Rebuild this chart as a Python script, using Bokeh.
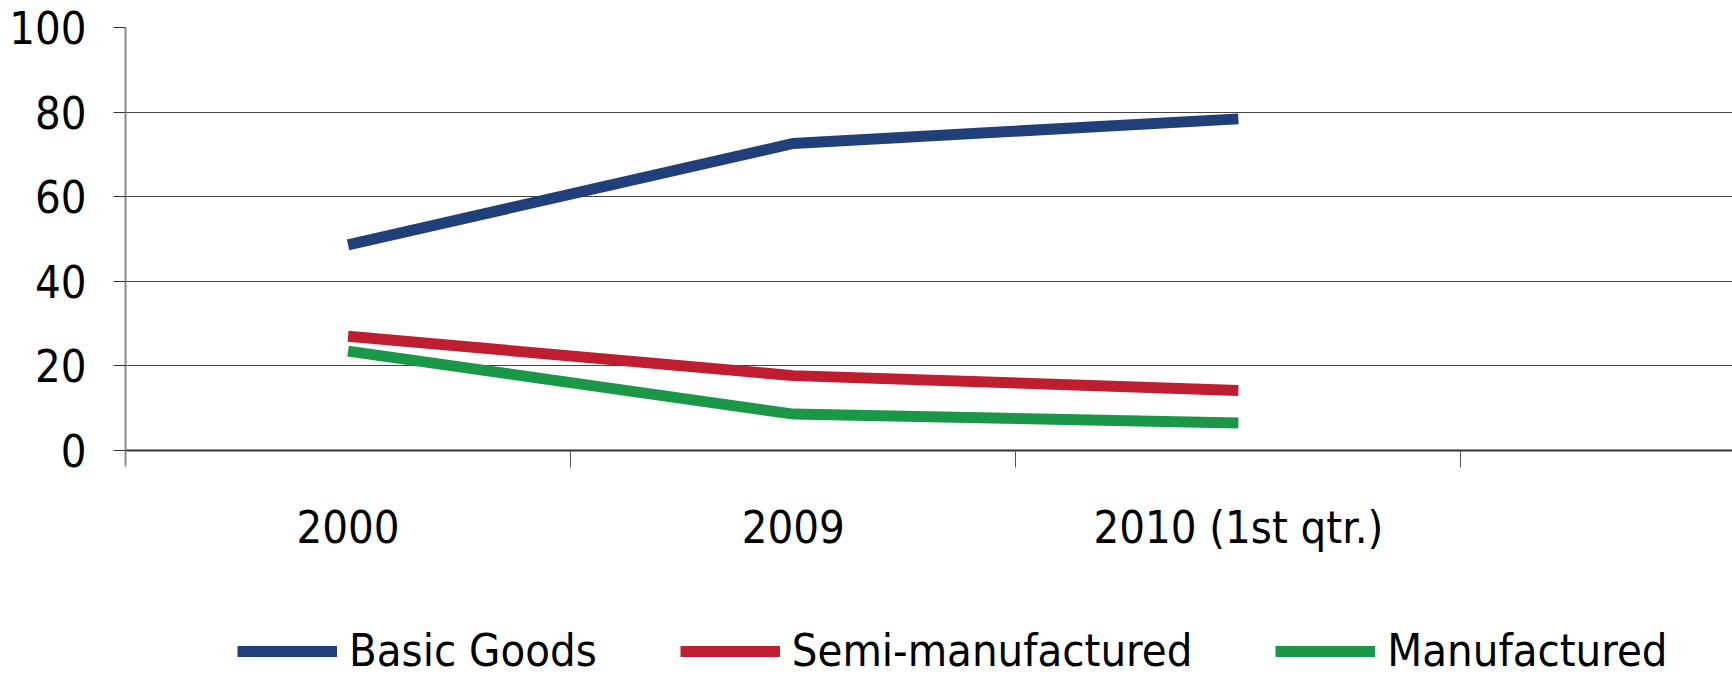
from bokeh.plotting import figure
from bokeh.models import Range1d, FixedTicker, Legend, LegendItem
from bokeh.embed import file_html
from bokeh.resources import INLINE

# ---- data ----
categories = ["2000", "2009", "2010 (1st qtr.)"]
basic_goods = [48.6, 72.6, 78.4]
semi_manufactured = [27.0, 17.7, 14.2]
manufactured = [23.5, 8.6, 6.5]
y_ticks = [0, 20, 40, 60, 80, 100]
series_names = ["Basic Goods", "Semi-manufactured", "Manufactured"]

# category slot centres and slot boundaries
x_pos = [i + 0.5 for i in range(len(categories))]
slot_edges = [0, 1, 2, 3]

FONT = "DejaVu Sans Condensed"
COLORS = ["#213F79", "#BE1E2F", "#1A9747"]

p = figure(width=1732, height=678, output_backend="svg", toolbar_location=None,
           x_range=Range1d(0, 3.61), y_range=Range1d(-53.9, 100),
           min_border_left=125, min_border_top=27, min_border_right=0,
           min_border_bottom=0)
p.outline_line_color = None
p.background_fill_color = "white"
p.border_fill_color = "white"

renderers = []
for vals, col in zip([basic_goods, semi_manufactured, manufactured], COLORS):
    r = p.line(x_pos, vals, line_color=col, line_width=11, line_join="miter",
               line_cap="butt")
    renderers.append(r)

# y axis
p.yaxis.ticker = FixedTicker(ticks=y_ticks)
p.yaxis.bounds = (-3.6, 101)
p.yaxis.major_tick_out = 12
p.yaxis.major_tick_in = 0
p.yaxis.minor_tick_out = 0
p.yaxis.minor_tick_in = 0
p.yaxis.major_tick_line_color = "#333333"
p.yaxis.axis_line_color = "#8a8a8a"
p.yaxis.axis_line_width = 2
p.yaxis.major_label_text_font = FONT
p.yaxis.major_label_text_font_size = "45px"
p.yaxis.major_label_text_color = "#000000"
p.yaxis.major_label_standoff = 27

p.ygrid.ticker = FixedTicker(ticks=y_ticks)
p.ygrid.grid_line_color = "#444444"
p.ygrid.grid_line_width = 1
p.xgrid.grid_line_color = None

# x axis drawn at y = 0
p.xaxis.fixed_location = 0
p.xaxis.ticker = FixedTicker(ticks=x_pos, minor_ticks=slot_edges)
p.xaxis.major_label_overrides = {x: c for x, c in zip(x_pos, categories)}
p.xaxis.major_tick_out = 0
p.xaxis.major_tick_in = 0
p.xaxis.minor_tick_out = 17
p.xaxis.minor_tick_in = 0
p.xaxis.minor_tick_line_color = "#555555"
p.xaxis.axis_line_color = "#333333"
p.xaxis.axis_line_width = 2
p.xaxis.major_label_text_font = FONT
p.xaxis.major_label_text_font_size = "45px"
p.xaxis.major_label_text_color = "#000000"
p.xaxis.major_label_standoff = 33

legend = Legend(items=[LegendItem(label=n, renderers=[r]) for n, r in zip(series_names, renderers)],
                orientation="horizontal", location=(112, 1),
                glyph_width=100, glyph_height=20, label_standoff=12, spacing=83,
                label_text_font=FONT, label_text_font_size="45px",
                label_text_color="#000000", border_line_color=None,
                background_fill_alpha=0, padding=0, margin=0)
p.add_layout(legend, "center")

open("out.html", "w").write(file_html(p, INLINE))
